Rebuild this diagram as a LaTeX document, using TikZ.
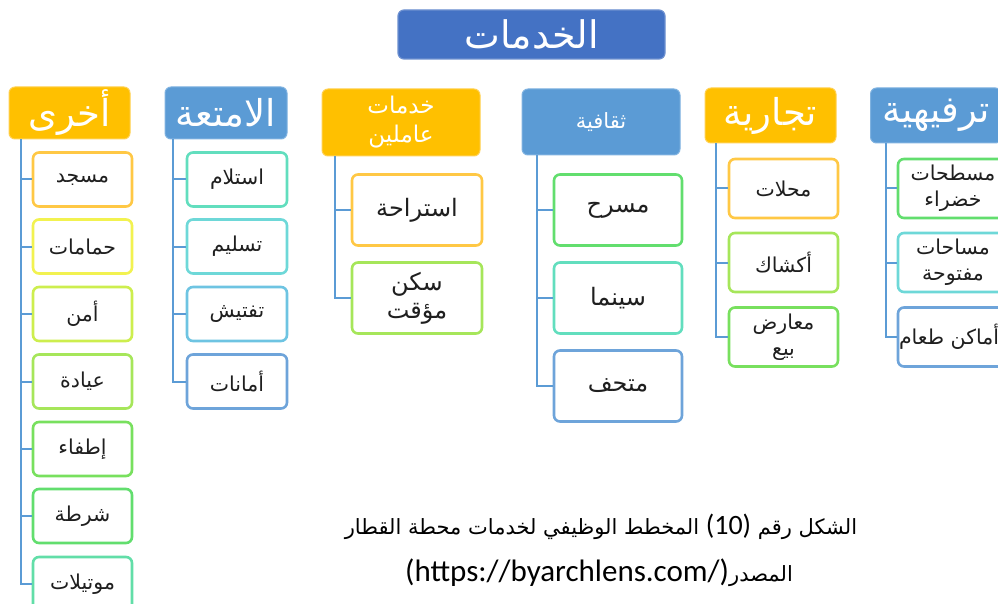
\documentclass[tikz,border=0pt]{standalone}
\usepackage{fontspec}
\setmainfont{Carlito}
\newfontfamily\latinfont{Carlito}
\newfontfamily\arabicfont[Script=Arabic]{DejaVu Sans}
\TeXXeTstate=1
\newcommand\ar[1]{\beginR#1\endR}

\definecolor{titleblue}{HTML}{4472C4}
\definecolor{titleedge}{HTML}{6D90D0}
\definecolor{hdrorange}{HTML}{FFC000}
\definecolor{hdrorangeedge}{HTML}{FFD050}
\definecolor{hdrblue}{HTML}{5B9BD5}
\definecolor{hdrblueedge}{HTML}{7FB2E0}
\definecolor{linkblue}{HTML}{5B9BD5}
\definecolor{bOrange}{HTML}{FFC845}
\definecolor{bYellow}{HTML}{F2F250}
\definecolor{bLime}{HTML}{CDEE4E}
\definecolor{bLightGreen}{HTML}{A6E65A}
\definecolor{bGreen}{HTML}{78E05E}
\definecolor{bGreenB}{HTML}{62DE6E}
\definecolor{bMint}{HTML}{62DEA8}
\definecolor{bTeal}{HTML}{62DEBE}
\definecolor{bCyan}{HTML}{6ED8D8}
\definecolor{bSky}{HTML}{6EC4E2}
\definecolor{bBlue}{HTML}{6EA4DA}

\tikzset{
  rootbox/.style={rectangle, rounded corners=6pt, fill=titleblue, draw=titleedge,
    line width=1.2pt, text=white, inner sep=0pt,
    minimum width=267pt, minimum height=49pt,
    font=\arabicfont\fontsize{38}{40}\selectfont},
  hdr/.style={rectangle, rounded corners=6pt, line width=1pt, text=white,
    inner sep=0pt, align=center},
  hdrO/.style={hdr, fill=hdrorange, draw=hdrorangeedge},
  hdrB/.style={hdr, fill=hdrblue, draw=hdrblueedge},
  bigtxt/.style={font=\arabicfont\fontsize{37}{40}\selectfont},
  smalltxt/.style={font=\arabicfont\fontsize{23}{29}\selectfont},
  kid/.style={rectangle, rounded corners=6pt, fill=white, line width=2.6pt,
    text=black!88, inner sep=0pt, align=center},
  kidS/.style={kid, font=\arabicfont\fontsize{20.5}{26}\selectfont},
  kidM/.style={kid, font=\arabicfont\fontsize{24}{28}\selectfont},
  link/.style={draw=linkblue, line width=2pt},
  caption/.style={inner sep=0pt, text=black,
    font=\arabicfont\fontsize{21}{26}\selectfont}
}

\begin{document}
\begin{tikzpicture}[x=1pt,y=-1pt]
\useasboundingbox (0,0) rectangle (998,604);
\clip (0,0) rectangle (998,604);

% root
\node[rootbox] (root) at (531.5,34.5) {\ar{الخدمات}};

% group headers
\node[hdrO, bigtxt, minimum width=121pt, minimum height=52pt] (h1) at (69.5,113) {\ar{أخرى}};
\node[hdrB, bigtxt, minimum width=122pt, minimum height=52pt] (h2) at (226,113) {\ar{الامتعة}};
\node[hdrO, smalltxt, minimum width=158pt, minimum height=67pt] (h3) at (401,122.5) {\ar{خدمات}\\\ar{عاملين}};
\node[hdrB, font=\arabicfont\fontsize{21}{26}\selectfont, minimum width=158pt, minimum height=66pt] (h4) at (601,122) {\ar{ثقافية}};
\node[hdrO, bigtxt, minimum width=131pt, minimum height=55pt] (h5) at (770.5,115.5) {\ar{تجارية}};
\node[hdrB, bigtxt, minimum width=131pt, minimum height=55pt] (h6) at (936,115.5) {\ar{ترفيهية}};

% group 1
\tikzset{g1/.style={kidS, minimum width=99pt, minimum height=54pt}}
\node[g1, draw=bOrange]     (a1) at (82.5,179.5) {\ar{مسجد}};
\node[g1, draw=bYellow]     (a2) at (82.5,246.5) {\ar{حمامات}};
\node[g1, draw=bLime]       (a3) at (82.5,314)   {\ar{أمن}};
\node[g1, draw=bLightGreen] (a4) at (82.5,381.5) {\ar{عيادة}};
\node[g1, draw=bGreen]      (a5) at (82.5,449)   {\ar{إطفاء}};
\node[g1, draw=bGreenB]     (a6) at (82.5,516)   {\ar{شرطة}};
\node[g1, draw=bMint]       (a7) at (82.5,584)   {\ar{موتيلات}};

% group 2
\tikzset{g2/.style={kidS, minimum width=100pt, minimum height=54pt}}
\node[g2, draw=bTeal] (b1) at (237,179.5) {\ar{استلام}};
\node[g2, draw=bCyan] (b2) at (237,246.5) {\ar{تسليم}};
\node[g2, draw=bSky]  (b3) at (237,314)   {\ar{تفتيش}};
\node[g2, draw=bBlue] (b4) at (237,381.5) {\ar{أمانات}};

% group 3
\tikzset{g3/.style={kidM, minimum width=130pt, minimum height=71pt}}
\node[g3, draw=bOrange]     (c1) at (417,210) {\ar{استراحة}};
\node[g3, draw=bLightGreen] (c2) at (417,298) {\ar{سكن}\\\ar{مؤقت}};

% group 4
\tikzset{g4/.style={kidM, minimum width=128pt, minimum height=71pt}}
\node[g4, draw=bGreenB] (d1) at (618,210) {\ar{مسرح}};
\node[g4, draw=bTeal]   (d2) at (618,298) {\ar{سينما}};
\node[g4, draw=bBlue]   (d3) at (618,386) {\ar{متحف}};

% group 5
\tikzset{g5/.style={kidS, minimum width=109pt, minimum height=59pt}}
\node[g5, draw=bOrange]     (e1) at (783.5,188.5) {\ar{محلات}};
\node[g5, draw=bLightGreen] (e2) at (783.5,262.5) {\ar{أكشاك}};
\node[g5, draw=bGreen]      (e3) at (783.5,337)   {\ar{معارض}\\\ar{بيع}};

% group 6
\tikzset{g6/.style={kidS, minimum width=110pt, minimum height=59pt}}
\node[g6, draw=bGreenB] (f1) at (953,188.5) {\ar{مسطحات}\\\ar{خضراء}};
\node[g6, draw=bCyan]   (f2) at (953,262.5) {\ar{مساحات}\\\ar{مفتوحة}};
\node[g6, draw=bBlue]   (f3) at (953,337)
  {\makebox[110pt][l]{\hspace{1pt}\ar{أماكن طعام}}};

% trunks of each group
\coordinate (t1) at (21,0);
\coordinate (t2) at (173,0);
\coordinate (t3) at (335,0);
\coordinate (t4) at (537,0);
\coordinate (t5) at (716,0);
\coordinate (t6) at (886,0);

\draw[link] (t1 |- h1.south) |- (a7.west);
\foreach \n in {a1,a2,a3,a4,a5,a6} \draw[link] (t1 |- \n.west) -- (\n.west);
\draw[link] (t2 |- h2.south) |- (b4.west);
\foreach \n in {b1,b2,b3} \draw[link] (t2 |- \n.west) -- (\n.west);
\draw[link] (t3 |- h3.south) |- (c2.west);
\draw[link] (t3 |- c1.west) -- (c1.west);
\draw[link] (t4 |- h4.south) |- (d3.west);
\foreach \n in {d1,d2} \draw[link] (t4 |- \n.west) -- (\n.west);
\draw[link] (t5 |- h5.south) |- (e3.west);
\foreach \n in {e1,e2} \draw[link] (t5 |- \n.west) -- (\n.west);
\draw[link] (t6 |- h6.south) |- (f3.west);
\foreach \n in {f1,f2} \draw[link] (t6 |- \n.west) -- (\n.west);

% caption
\node[caption] (cap1) at (601,527)
  {\ar{الشكل رقم \beginL{\latinfont\fontsize{28}{30}\selectfont (10)}\endL{} المخطط الوظيفي لخدمات محطة القطار}};
\node[caption] (cap2) at (599,573)
  {\ar{المصدر\beginL{\latinfont\fontsize{31}{34}\selectfont (https://byarchlens.com/)}\endL}};
\end{tikzpicture}
\end{document}
